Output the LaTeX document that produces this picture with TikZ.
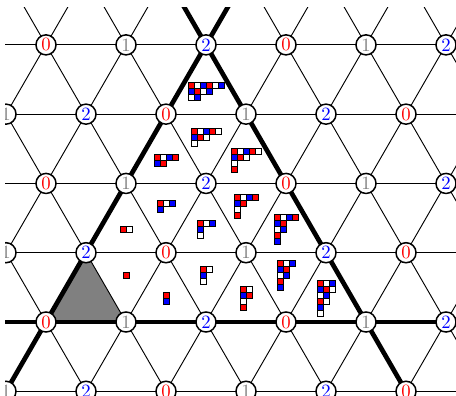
\documentclass[tikz,border=0pt]{standalone}
\tikzset{
  lat/.style={line width=0.5pt, black},
  wall/.style={line width=2.5pt, black, line cap=butt},
  vtx/.style={circle, draw=black, fill=white, line width=0.8pt, minimum size=10.7pt, inner sep=0pt, font=\normalsize},
  cellbox/.style={draw=black, line width=0.45pt},
  alcove/.style={fill=gray},
}
\newcommand{\corediag}[5]{%
  \foreach \rowlen [count=\rowi from 0] in {#5} {%
    \foreach \coli in {1,...,\rowlen} {%
      \pgfmathtruncatemacro{\resid}{mod(\coli-1-\rowi+30,3)}%
      \ifcase\resid\def\fc{red}\or\def\fc{white}\or\def\fc{blue}\fi
      \draw[cellbox, fill=\fc] ({#1-3*#3+6*(\coli-1)},{#2-3*#4+6*\rowi}) rectangle ++(6,6);
    }%
  }%
}
\begin{document}
\begin{tikzpicture}[x=0.5335pt,y=-0.5335pt]
\fill[white] (0,0) rectangle (456,395);
\useasboundingbox (0,0) rectangle (456,395);
\clip (5,8) rectangle (456,395);
% lattice vertices
\foreach \k/\yy/\xs in {4/44.87/46, 3/114.15/6, 2/183.44/46, 1/252.72/6, 0/322/46, -1/391.28/6}{
  \foreach \j in {0,...,5}{
    \coordinate (p\k-\j) at ({\xs+80*\j},\yy);
  }
  \coordinate (hl\k) at (-20,\yy);
  \coordinate (hr\k) at (480,\yy);
}
% fundamental alcove
\fill[alcove] (p0-0) -- (p0-1) -- (p1-1) -- cycle;
% horizontal lattice lines
\foreach \k in {4,3,2,1,0,-1}{
  \draw[lat] (hl\k) -- (hr\k);
}
% slanted lattice lines
\foreach \m in {-4,...,9}{
  \coordinate (ua\m) at ({46+80*\m-80},460.56);
  \coordinate (ub\m) at ({46+80*\m+240},-93.69);
  \coordinate (da\m) at ({46+80*\m+80},460.56);
  \coordinate (db\m) at ({46+80*\m-240},-93.69);
  \draw[lat] (ua\m) -- (ub\m);
  \draw[lat] (da\m) -- (db\m);
}
% walls
\draw[wall] (hl0) -- (hr0);
\draw[wall] (ua0) -- (ub0);
\draw[wall] (da4) -- (db4);
% 3-cores
\corediag{126}{275.81}{1}{1}{1}
\corediag{166}{298.91}{1}{2}{1,1}
\corediag{206}{275.81}{2}{3}{2,1,1}
\corediag{246}{298.91}{2}{4}{2,2,1,1}
\corediag{286}{275.81}{3}{5}{3,2,2,1,1}
\corediag{326}{298.91}{3}{6}{3,3,2,2,1,1}
\corediag{126}{229.63}{2}{1}{2}
\corediag{166}{206.53}{3}{2}{3,1}
\corediag{206}{229.63}{3}{3}{3,1,1}
\corediag{246}{206.53}{4}{4}{4,2,1,1}
\corediag{286}{229.63}{4}{5}{4,2,2,1,1}
\corediag{166}{160.34}{4}{2}{4,2}
\corediag{206}{137.25}{5}{3}{5,3,1}
\corediag{246}{160.34}{5}{4}{5,3,1,1}
\corediag{206}{91.06}{6}{3}{6,4,2}
% vertex labels
\foreach \k/\off in {4/0,3/1,2/0,1/1,0/0,-1/1}{
  \foreach \j in {0,...,5}{
    \pgfmathtruncatemacro{\lab}{mod(\j+\off,3)}
    \ifcase\lab\def\tc{red}\or\def\tc{gray}\or\def\tc{blue}\fi
    \node[vtx, text=\tc] (v\k-\j) at (p\k-\j) {\lab};
  }
}
\end{tikzpicture}
\end{document}
